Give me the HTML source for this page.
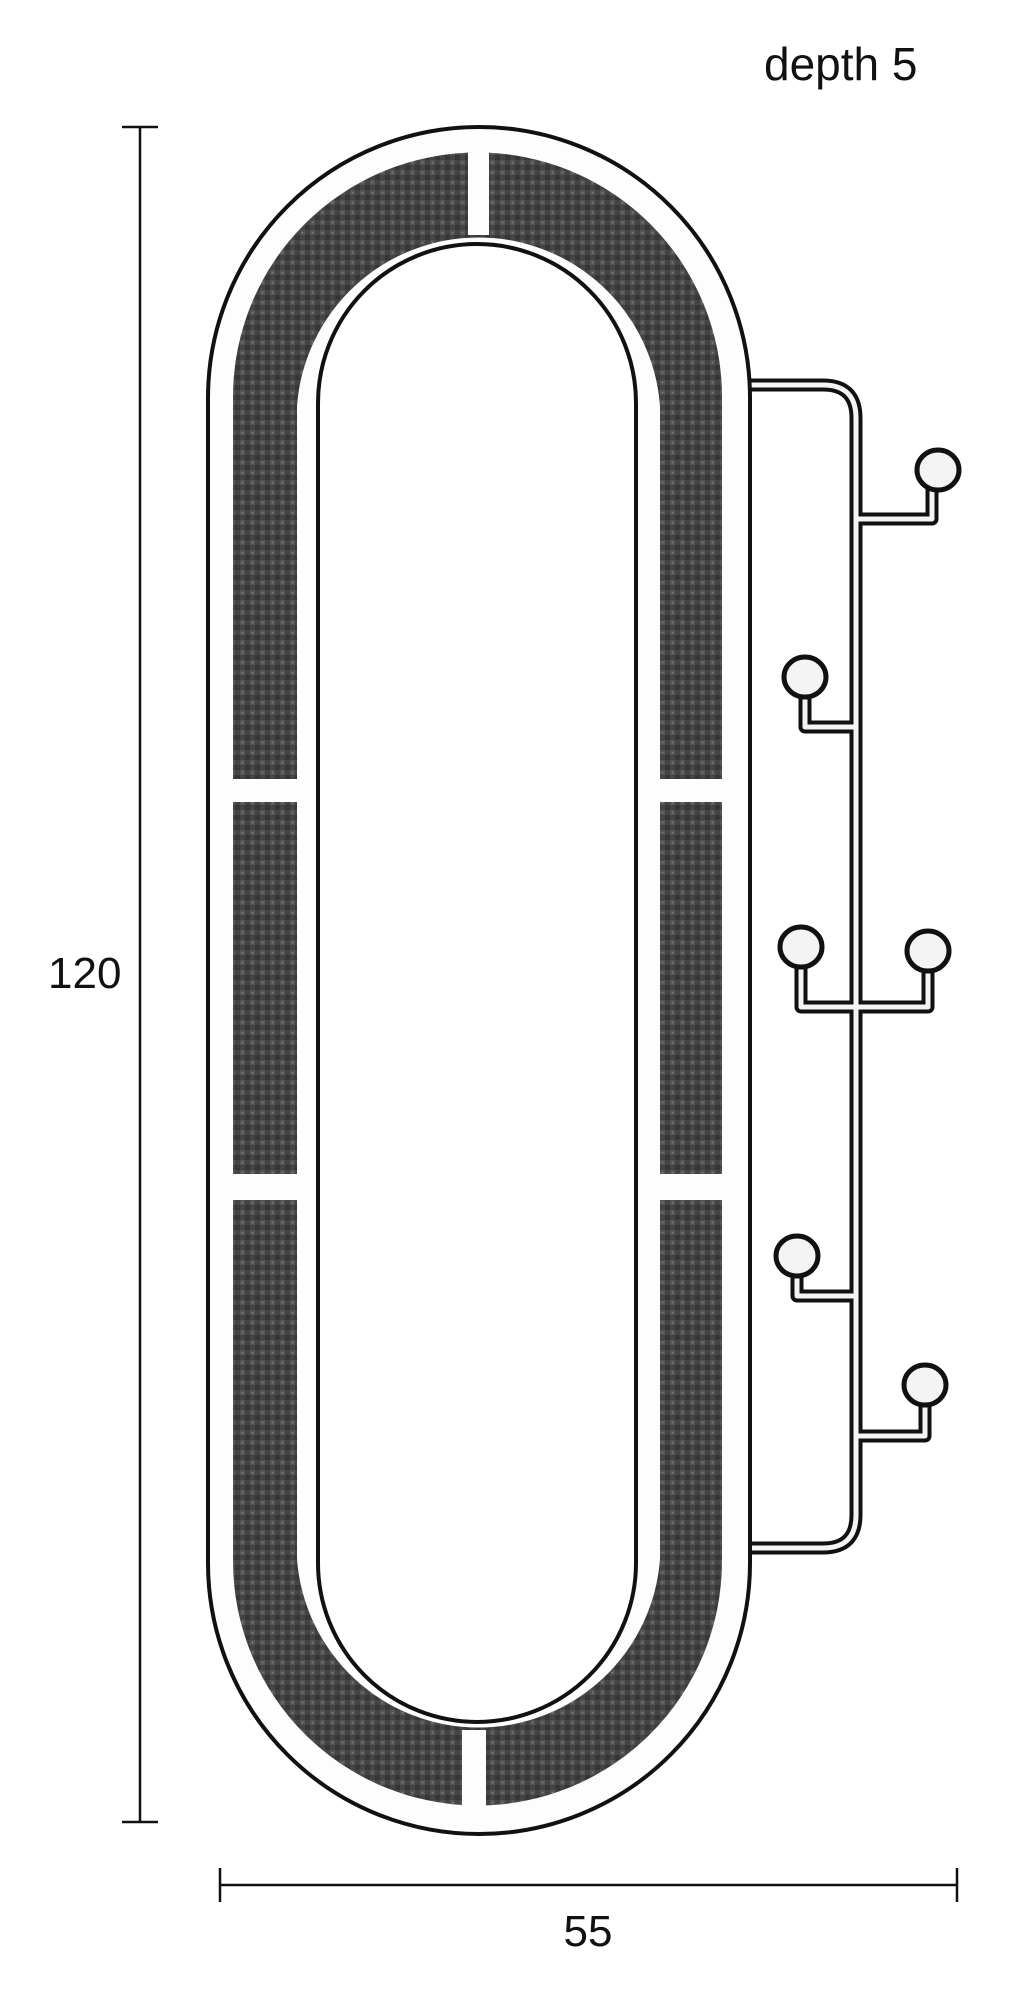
<!DOCTYPE html>
<html><head><meta charset="utf-8"><style>
html,body{margin:0;padding:0;background:#fff;}
svg{display:block;}
text{font-family:"Liberation Sans",sans-serif;fill:#111;}
</style></head><body>
<svg width="1017" height="2000" viewBox="0 0 1017 2000" xmlns="http://www.w3.org/2000/svg">
<defs>
<pattern id="weave" width="10" height="10" patternUnits="userSpaceOnUse">
<rect width="10" height="10" fill="#444"/>
<rect x="0" y="0" width="5" height="5" fill="#555"/>
<rect x="5" y="5" width="5" height="5" fill="#363636"/>
<circle cx="2.5" cy="2.5" r="0.8" fill="#888"/>
</pattern>
</defs>
<text x="764" y="80" font-size="46">depth 5</text>
<text x="48" y="988" font-size="44">120</text>
<text x="588" y="1946" font-size="44" text-anchor="middle">55</text>
<g stroke="#111" stroke-width="2.5">
<line x1="140" y1="127" x2="140" y2="1822"/>
<line x1="122" y1="127" x2="158" y2="127"/>
<line x1="122" y1="1822" x2="158" y2="1822"/>
<line x1="220" y1="1885" x2="957" y2="1885"/>
<line x1="220" y1="1868" x2="220" y2="1902"/>
<line x1="957" y1="1868" x2="957" y2="1902"/>
</g>
<g fill="none" stroke-linejoin="round" stroke-linecap="round">
<g stroke="#111" stroke-width="13">
<path d="M748 385 H823 Q856 385 856 418 V1515 Q856 1548 823 1548 H748"/>
<path d="M856 519 H932 V490"/>
<path d="M856 727 H805 V697"/>
<path d="M856 1007 H801 V967"/>
<path d="M856 1007 H928 V971"/>
<path d="M856 1296 H797 V1276"/>
<path d="M856 1436 H925 V1405"/>
</g>
<g stroke="#f4f4f4" stroke-width="5">
<path d="M748 385 H823 Q856 385 856 418 V1515 Q856 1548 823 1548 H748"/>
<path d="M856 519 H932 V490"/>
<path d="M856 727 H805 V697"/>
<path d="M856 1007 H801 V967"/>
<path d="M856 1007 H928 V971"/>
<path d="M856 1296 H797 V1276"/>
<path d="M856 1436 H925 V1405"/>
</g>
</g>
<g fill="#f4f4f4" stroke="#111" stroke-width="5">
<ellipse cx="938" cy="470" rx="21" ry="20"/>
<ellipse cx="805" cy="677" rx="21" ry="20"/>
<ellipse cx="801" cy="947" rx="21" ry="20"/>
<ellipse cx="928" cy="951" rx="21" ry="20"/>
<ellipse cx="797" cy="1256" rx="21" ry="20"/>
<ellipse cx="925" cy="1385" rx="21" ry="20"/>
</g>
<path d="M208 398 A271 271 0 0 1 750 398 V1563 A271 271 0 0 1 208 1563 Z" fill="#fdfdfd" stroke="#111" stroke-width="4"/>
<path fill-rule="evenodd" fill="url(#weave)" d="M233 397 A244 244 0 0 1 722 397 V1561 A244 244 0 0 1 233 1561 Z M297 406 A182 182 0 0 1 660 406 V1559 A182 182 0 0 1 297 1559 Z"/>
<g fill="#fdfdfd">
<rect x="468" y="145" width="21" height="90"/>
<rect x="462" y="1730" width="24" height="85"/>
<rect x="225" y="779" width="80" height="23"/>
<rect x="650" y="779" width="80" height="23"/>
<rect x="225" y="1174" width="80" height="26"/>
<rect x="650" y="1174" width="80" height="26"/>
</g>
<path d="M318 403 A159 159 0 0 1 636 403 V1563 A159 159 0 0 1 318 1563 Z" fill="#fff" stroke="#111" stroke-width="4"/>
</svg>
</body></html>
